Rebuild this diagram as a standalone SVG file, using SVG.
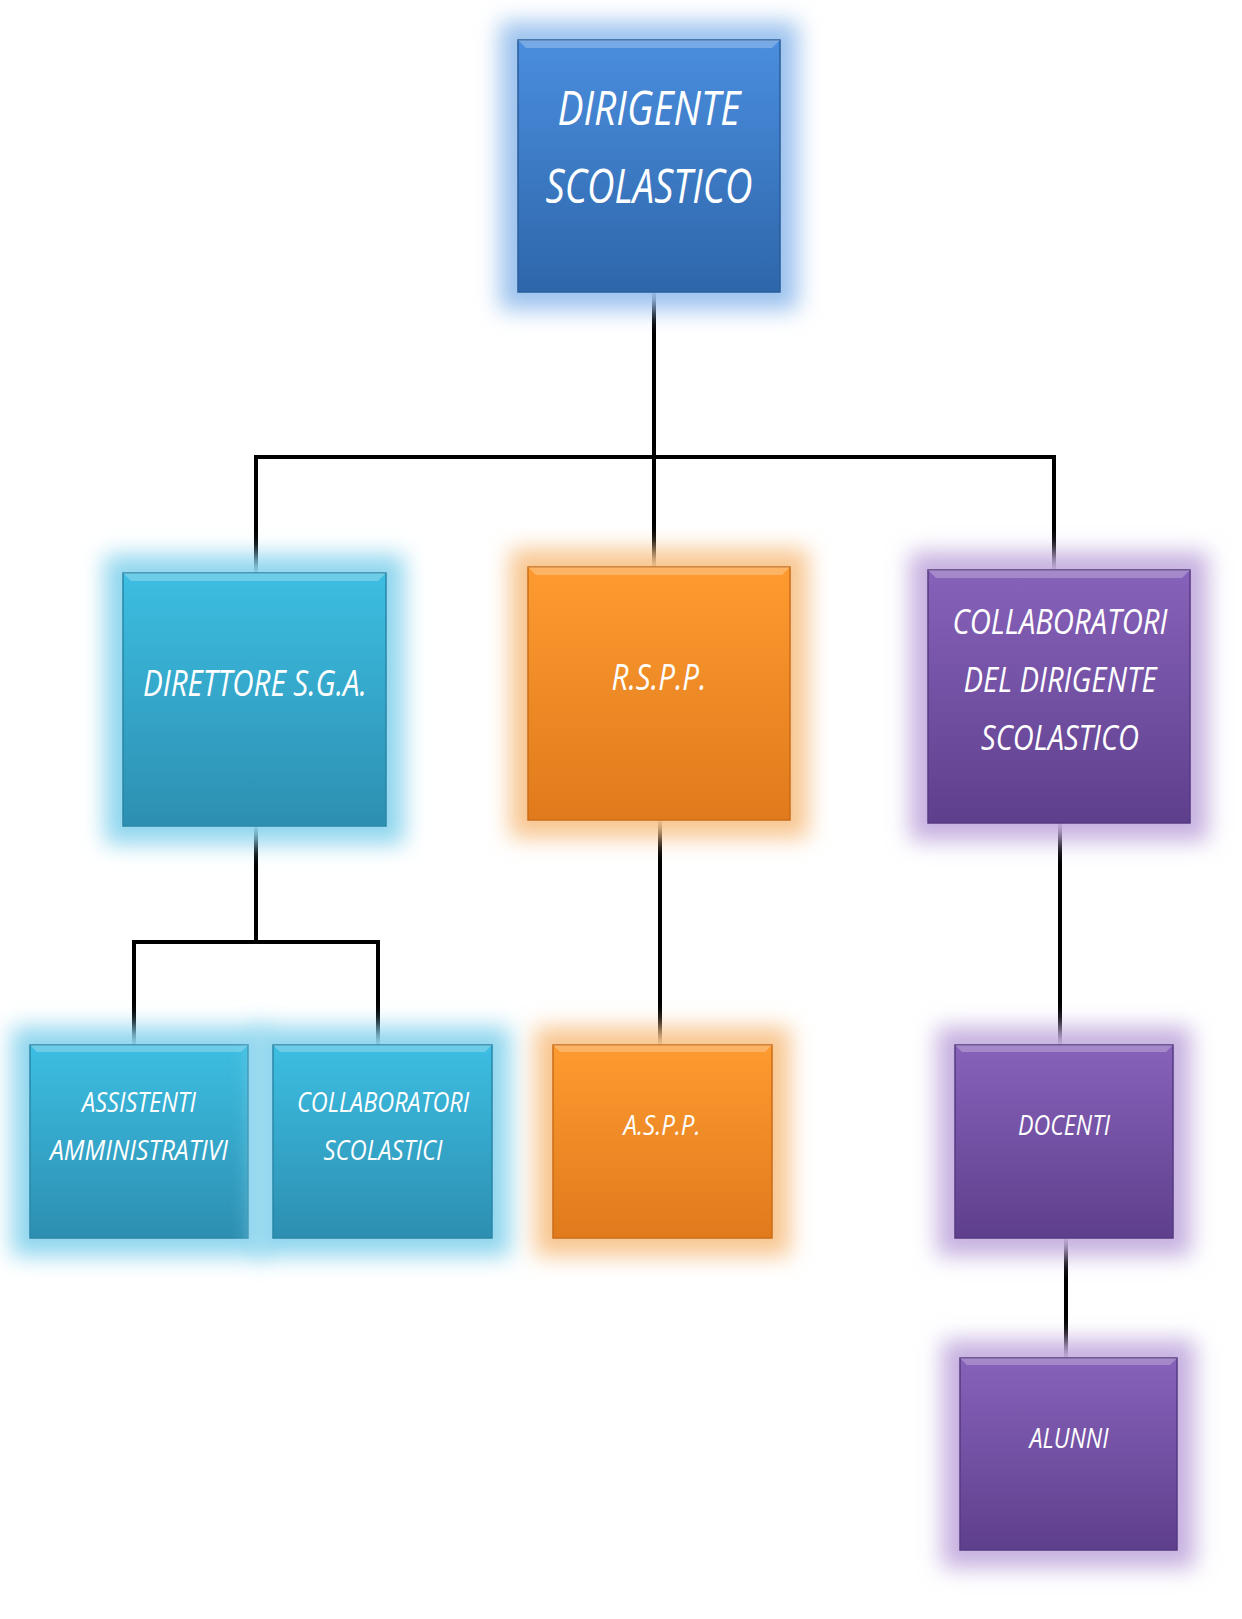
<svg xmlns="http://www.w3.org/2000/svg" width="1242" height="1619" viewBox="0 0 1242 1619">
<defs>
<filter id="glow" x="-30%" y="-30%" width="160%" height="160%"><feGaussianBlur stdDeviation="11"/></filter>
<linearGradient id="gBlue" x1="0" y1="0" x2="0" y2="1"><stop offset="0" stop-color="#4a8ede"/><stop offset="1" stop-color="#2e66aa"/></linearGradient>
<linearGradient id="gCyan" x1="0" y1="0" x2="0" y2="1"><stop offset="0" stop-color="#3cbee2"/><stop offset="1" stop-color="#2d8fb1"/></linearGradient>
<linearGradient id="gOrange" x1="0" y1="0" x2="0" y2="1"><stop offset="0" stop-color="#fd9b30"/><stop offset="1" stop-color="#e07a1c"/></linearGradient>
<linearGradient id="gPurple" x1="0" y1="0" x2="0" y2="1"><stop offset="0" stop-color="#8762ba"/><stop offset="1" stop-color="#5e3f8c"/></linearGradient>
</defs>
<style>
.t{font-family:"Open Sans","Noto Sans","Liberation Sans",sans-serif;font-style:italic;fill:#ffffff;text-anchor:middle}
.conn{stroke:#000;stroke-width:4;fill:none;stroke-linecap:square}
.hl{fill:#ffffff;opacity:0.25}
</style>
<rect width="1242" height="1619" fill="#ffffff"/>
<g id="connectors">
<path class="conn" d="M654,292 V457 M256,457 H1054 M256,457 V573 M654,457 V567 M1054,457 V570"/>
<path class="conn" d="M256,826 V942 M134,942 H378 M134,942 V1045 M378,942 V1045"/>
<path class="conn" d="M660,820 V1045"/>
<path class="conn" d="M1060,823 V1045"/>
<path class="conn" d="M1066,1238 V1358"/>
</g>
<g id="n-dirigente">
<rect x="500" y="22" width="298" height="288" fill="#9cc2ee" filter="url(#glow)"/>
<rect x="518" y="40" width="262" height="252" fill="url(#gBlue)" stroke="#2a5c9a" stroke-width="1.5"/>
<polygon class="hl" points="518,40 780,40 772,48 526,48"/>
<text class="t" x="649" y="125" font-size="48" textLength="183" lengthAdjust="spacingAndGlyphs">DIRIGENTE</text>
<text class="t" x="649" y="203" font-size="48" textLength="207" lengthAdjust="spacingAndGlyphs">SCOLASTICO</text>
</g>
<g id="n-direttore">
<rect x="105" y="555" width="299" height="289" fill="#8fd6ee" filter="url(#glow)"/>
<rect x="123" y="573" width="263" height="253" fill="url(#gCyan)" stroke="#2a86a6" stroke-width="1.5"/>
<polygon class="hl" points="123,573 386,573 378,581 131,581"/>
<text class="t" x="255" y="696" font-size="37" textLength="224" lengthAdjust="spacingAndGlyphs">DIRETTORE S.G.A.</text>
</g>
<g id="n-rspp">
<rect x="510" y="549" width="298" height="289" fill="#f8c690" filter="url(#glow)"/>
<rect x="528" y="567" width="262" height="253" fill="url(#gOrange)" stroke="#c96d18" stroke-width="1.5"/>
<polygon class="hl" points="528,567 790,567 782,575 536,575"/>
<text class="t" x="659" y="690" font-size="36" textLength="95" lengthAdjust="spacingAndGlyphs">R.S.P.P.</text>
</g>
<g id="n-collab-ds">
<rect x="910" y="552" width="298" height="289" fill="#c6b0e0" filter="url(#glow)"/>
<rect x="928" y="570" width="262" height="253" fill="url(#gPurple)" stroke="#553a80" stroke-width="1.5"/>
<polygon class="hl" points="928,570 1190,570 1182,578 936,578"/>
<text class="t" x="1060" y="634" font-size="35" textLength="215" lengthAdjust="spacingAndGlyphs">COLLABORATORI</text>
<text class="t" x="1060" y="692" font-size="35" textLength="193" lengthAdjust="spacingAndGlyphs">DEL DIRIGENTE</text>
<text class="t" x="1060" y="750" font-size="35" textLength="158" lengthAdjust="spacingAndGlyphs">SCOLASTICO</text>
</g>
<g id="n-assistenti">
<rect x="12" y="1027" width="254" height="229" fill="#8fd6ee" filter="url(#glow)"/>
<rect x="30" y="1045" width="218" height="193" fill="url(#gCyan)" stroke="#2a86a6" stroke-width="1.5"/>
<polygon class="hl" points="30,1045 248,1045 241,1052 37,1052"/>
<text class="t" x="139" y="1112" font-size="28" textLength="114" lengthAdjust="spacingAndGlyphs">ASSISTENTI</text>
<text class="t" x="139" y="1160" font-size="28" textLength="178" lengthAdjust="spacingAndGlyphs">AMMINISTRATIVI</text>
</g>
<g id="n-collab-scol">
<rect x="255" y="1027" width="255" height="229" fill="#8fd6ee" filter="url(#glow)"/>
<rect x="273" y="1045" width="219" height="193" fill="url(#gCyan)" stroke="#2a86a6" stroke-width="1.5"/>
<polygon class="hl" points="273,1045 492,1045 485,1052 280,1052"/>
<text class="t" x="383" y="1112" font-size="28" textLength="172" lengthAdjust="spacingAndGlyphs">COLLABORATORI</text>
<text class="t" x="383" y="1160" font-size="28" textLength="119" lengthAdjust="spacingAndGlyphs">SCOLASTICI</text>
</g>
<g id="n-aspp">
<rect x="535" y="1027" width="255" height="229" fill="#f8c690" filter="url(#glow)"/>
<rect x="553" y="1045" width="219" height="193" fill="url(#gOrange)" stroke="#c96d18" stroke-width="1.5"/>
<polygon class="hl" points="553,1045 772,1045 765,1052 560,1052"/>
<text class="t" x="662" y="1135" font-size="28" textLength="77" lengthAdjust="spacingAndGlyphs">A.S.P.P.</text>
</g>
<g id="n-docenti">
<rect x="937" y="1027" width="254" height="229" fill="#c6b0e0" filter="url(#glow)"/>
<rect x="955" y="1045" width="218" height="193" fill="url(#gPurple)" stroke="#553a80" stroke-width="1.5"/>
<polygon class="hl" points="955,1045 1173,1045 1166,1052 962,1052"/>
<text class="t" x="1064" y="1135" font-size="28" textLength="92" lengthAdjust="spacingAndGlyphs">DOCENTI</text>
</g>
<g id="n-alunni">
<rect x="942" y="1340" width="253" height="228" fill="#c6b0e0" filter="url(#glow)"/>
<rect x="960" y="1358" width="217" height="192" fill="url(#gPurple)" stroke="#553a80" stroke-width="1.5"/>
<polygon class="hl" points="960,1358 1177,1358 1170,1365 967,1365"/>
<text class="t" x="1069" y="1448" font-size="27" textLength="79" lengthAdjust="spacingAndGlyphs">ALUNNI</text>
</g>
</svg>
